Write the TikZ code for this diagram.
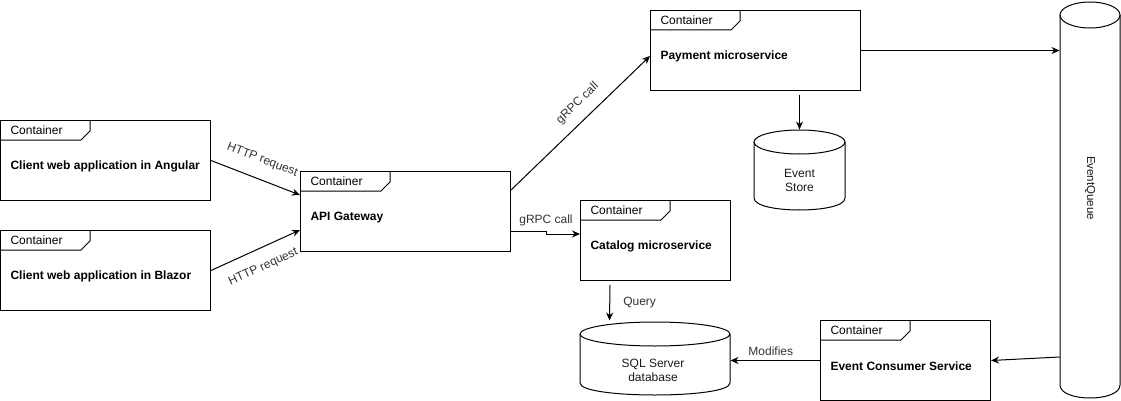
\documentclass[tikz,border=0pt]{standalone}
\usepackage{fontspec}
\setmainfont{Liberation Sans}
\usetikzlibrary{arrows.meta,calc}
\newcommand\ctrbox[5]{%
  \node[ctr, minimum width=#4] (#1) at (#2,#3) {};
  \draw (#1.north west) ++(0,20) -- ++(81,0) -- ++(9,-9) -- ++(0,-11);
  \node[ctrtitle] (#1-t) at ($(#1.north west)+(10,10.5)$) {Container};
  \node[ctrtext] (#1-x) at ($(#1.north west)+(10,46.5)$) {#5};
}
\newcommand\cylshape[5]{% x1 x2 top bottom ry
  \draw (#1,#3+#5) -- (#1,#4-#5) .. controls (#1,#4+#5/3) and (#2,#4+#5/3) .. (#2,#4-#5) -- (#2,#3+#5);
  \draw ({(#1+#2)/2},#3+#5) ellipse [x radius={(#2-#1)/2}, y radius=#5];
}
\begin{document}
\begin{tikzpicture}[x=1pt,y=-1pt,line width=1pt,
  ctr/.style={draw, rectangle, anchor=north west, inner sep=0pt, minimum height=80},
  ctrtitle/.style={anchor=west, inner sep=0pt, font=\fontsize{12}{14}\selectfont},
  ctrtext/.style={anchor=west, inner sep=0pt, font=\bfseries\fontsize{12}{14}\selectfont},
  lbl/.style={font=\fontsize{12}{14}\selectfont, inner sep=1pt, text=black!80},
  cyltext/.style={font=\fontsize{12}{14}\selectfont, align=center, inner sep=0pt, text=black!90},
  area/.style={rectangle, inner sep=0pt},
  arr/.style={-{Stealth[length=8pt,width=7pt]}},
]
\useasboundingbox (0,0) rectangle (1121,401);

\ctrbox{ang}{0}{120}{210}{Client web application in Angular}
\ctrbox{bla}{0}{230}{210}{Client web application in Blazor}
\ctrbox{api}{300}{171}{210}{API Gateway}
\ctrbox{pay}{650}{10}{210}{Payment microservice}
\ctrbox{cat}{580}{200}{150}{Catalog microservice}
\ctrbox{ecs}{820}{320}{170}{Event Consumer Service}

% cylinders
\cylshape{754}{845}{130}{210}{12}
\node[area, minimum width=91, minimum height=80] (es) at (799.5,170) {};
\node[cyltext] (es-t) at (799.5,180) {Event\\Store};

\cylshape{580}{730}{322}{395}{12}
\node[area, minimum width=150, minimum height=73] (sql) at (655,358.5) {};
\node[cyltext] (sql-t) at (653,370) {SQL Server\\database};

\cylshape{1060}{1120}{2}{398}{13}
\node[area, minimum width=60, minimum height=396] (eq) at (1090,200) {};
\node[font=\fontsize{11.5}{13}\selectfont, inner sep=0pt, rotate=-90, text=black!90] (eq-t) at (1090,188) {EventQueue};

% connectors
\draw[arr] (ang.east) -- ($(api.north west)+(0,24)$)
  node[lbl, sloped, midway, above=12pt] {HTTP request};
\draw[arr] (bla.east) -- ($(api.north west)+(0,59)$)
  node[lbl, sloped, midway, below=12pt] {HTTP request};
\draw[arr] ($(api.north east)+(0,19)$) -- ($(pay.south west)+(0,-35)$)
  node[lbl, sloped, pos=0.56, above=9pt] {gRPC call};
\coordinate (g2) at ($(api.north east)+(0,60)$);
\coordinate (g3) at ($(g2)+(35,3)$);
\draw[arr] (g2) -- ++(35,0) -- (g3) -- (g3 -| cat.west);
\node[lbl, above=4pt] (g-lbl) at ($(g2)+(35,0)$) {gRPC call};
\draw[arr] ($(pay.south -| es.north)+(0,4)$) -- (es.north);
\draw[arr] (pay.east) -- (pay.east -| eq.west);
\draw[arr] ($(cat.south west)+(30,4)$) -- ($(sql.north west)+(30,-1)$)
  node[lbl, midway, right=12pt] {Query};
\draw[arr] ($(eq.west)+(0,157)$) -- (ecs.east);
\draw[arr] (ecs.west) -- (ecs.west -| sql.east)
  node[lbl, pos=0.55, above=3pt] {Modifies};
\end{tikzpicture}
\end{document}
